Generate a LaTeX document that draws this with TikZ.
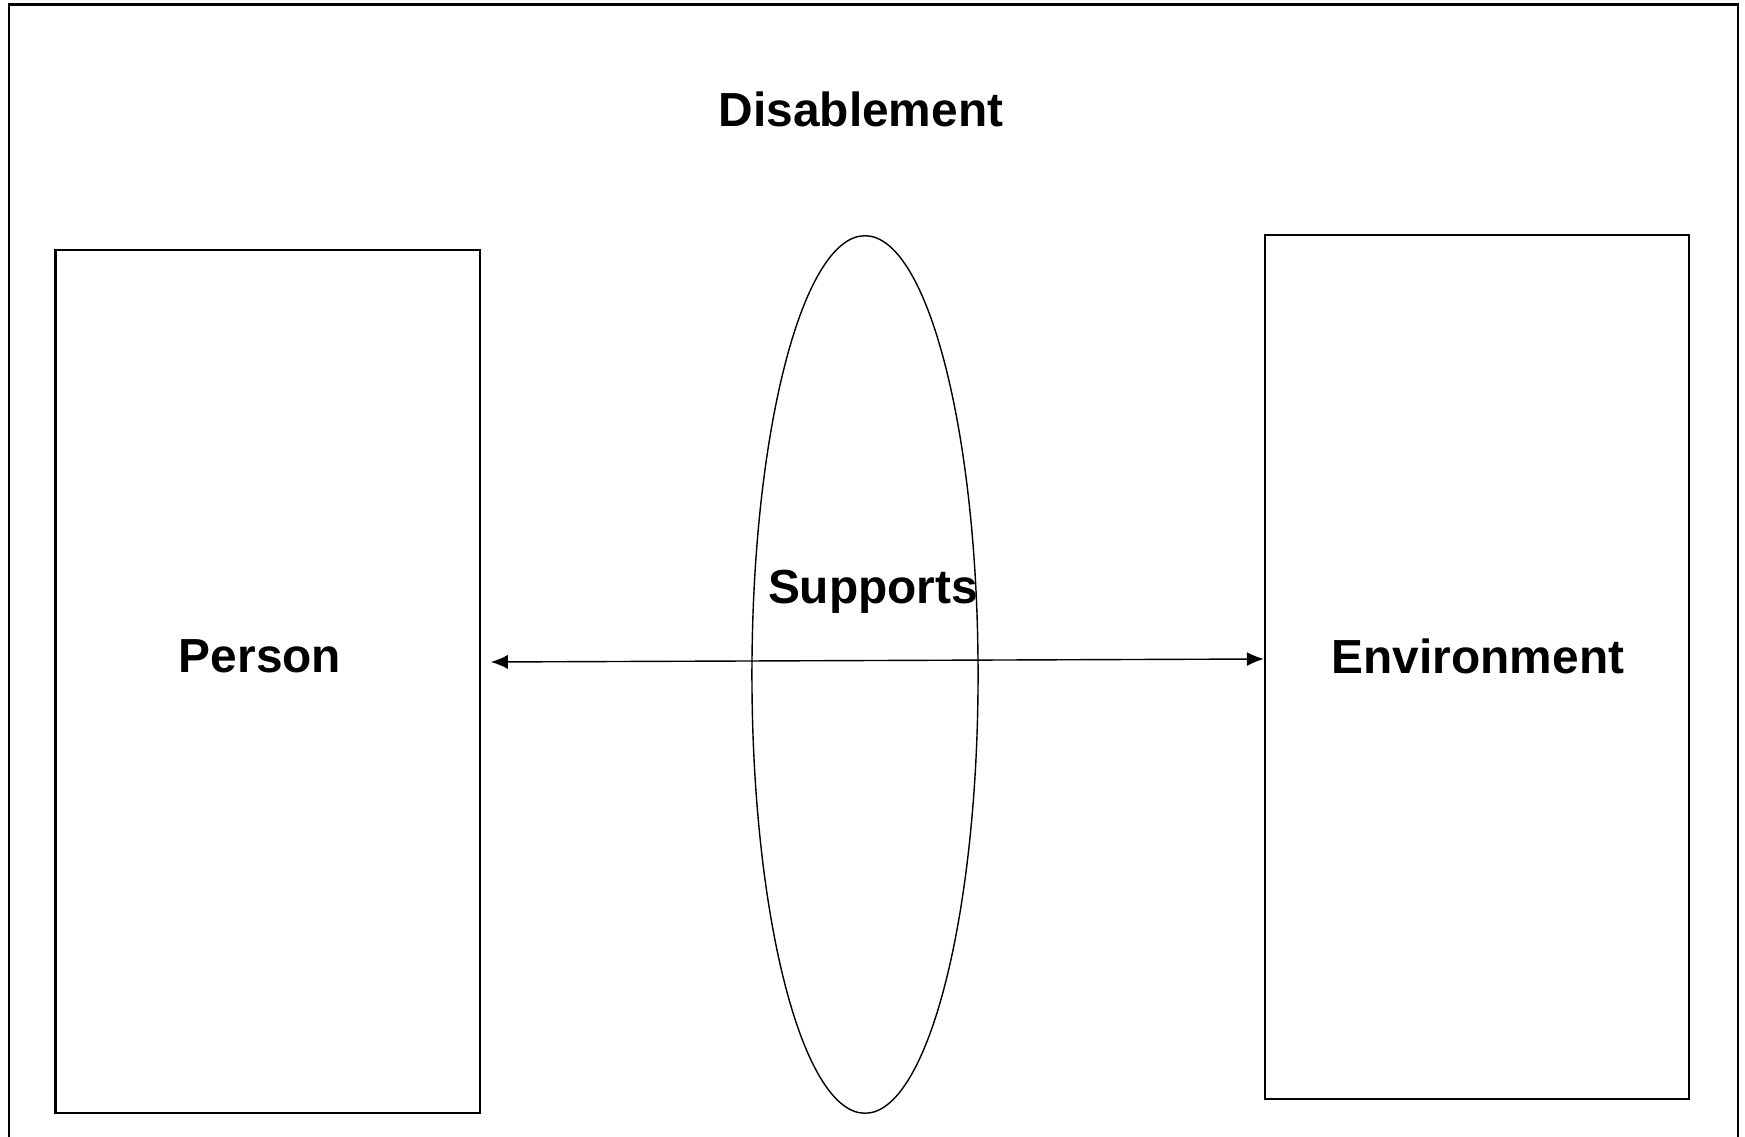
\documentclass[tikz,border=0pt]{standalone}
\usepackage{fontspec}
\setmainfont{Liberation Sans}
\usepackage{tikz}
\usetikzlibrary{arrows.meta}
\tikzset{arrow/.style = {> = {Latex[length = 1.7mm, width = 1.4mm]}}}
\usetikzlibrary{positioning}
\usetikzlibrary{shapes.geometric}

\begin{document}
\begin{tikzpicture}[x = 0.01cm, y = -0.01cm,
	block/.style = {rectangle, draw = black, line width = 0.6pt, inner sep = 0pt, minimum width = 4.24cm, minimum height = 8.63cm},
	lens/.style = {ellipse, draw = black, line width = 0.4pt, inner sep = 0pt, minimum width = 2.26cm, minimum height = 8.77cm},
	caption/.style = {font = \fontsize{13.6}{16}\selectfont\bfseries, inner sep = 0pt}]
	\useasboundingbox (0, 0) rectangle (1745, 1137);

	%% Frame (open at the bottom)
	\draw[line width = 0.6pt] (9, 1137) -- (9, 4.5) -- (1738, 4.5) -- (1738, 1137);

	%% Title
	\node[caption] (title) at (861, 109) {Disablement};

	%% Boxes
	\node[block] (person) at (267.6, 681.5) {};
	\node[block] (environment) at (1477, 667) {};
	\node[lens] (supports) at (865, 674.5) {};

	%% Labels
	\node[caption] (personlabel) at (260, 656) {Person};
	\node[caption] (environmentlabel) at (1478, 656) {Environment};
	\node[caption] (supportslabel) at (873, 591.5) {Supports};

	%% Arrow
	\draw[<->, arrow, line width = 0.4pt] ([shift = {(10, -19.5)}]person.east) -- ([yshift = 0.08cm]environment.west);
\end{tikzpicture}
\end{document}
